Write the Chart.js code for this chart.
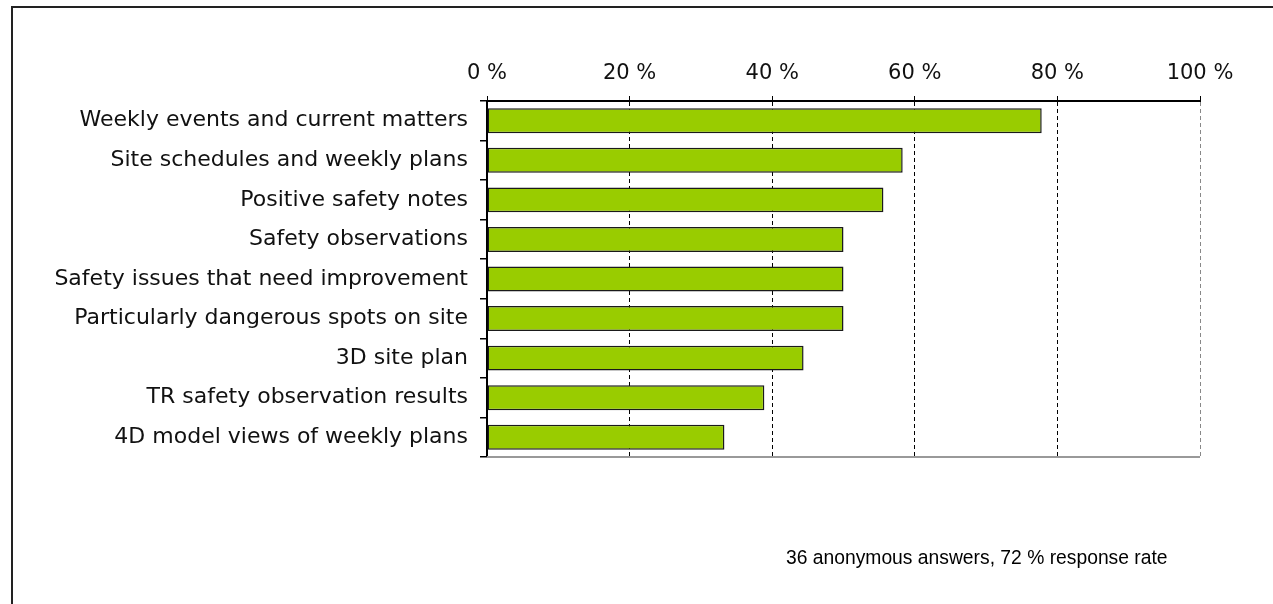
<!DOCTYPE html>
<html>
<head>
<meta charset="utf-8">
<script src="https://cdn.jsdelivr.net/npm/chart.js@4/dist/chart.umd.min.js"></script>
<style>
  html, body { margin: 0; padding: 0; background: #fff; }
  #wrap { position: relative; width: 1273px; height: 604px; overflow: hidden; }
  #frame { position: absolute; left: 11px; top: 6px; width: 1300px; height: 700px;
           border-top: 2px solid #222; border-left: 2px solid #222; }
  #note { position: absolute; left: 786px; top: 547px; font-family: "Liberation Sans", Arial, sans-serif;
          font-size: 19.3px; color: #000; white-space: nowrap; }
  canvas { position: absolute; left: 0; top: 0; }
</style>
</head>
<body>
<div id="wrap">
  <canvas id="chart" width="1273" height="604"></canvas>
  <div id="frame"></div>
  <div id="note">36 anonymous answers, 72 % response rate</div>
</div>
<script>
// answers in percent (36 respondents)
const topics = [
    "Weekly events and current matters",
    "Site schedules and weekly plans",
    "Positive safety notes",
    "Safety observations",
    "Safety issues that need improvement",
    "Particularly dangerous spots on site",
    "3D site plan",
    "TR safety observation results",
    "4D model views of weekly plans"
];
const shares = [77.8, 58.3, 55.6, 50.0, 50.0, 50.0, 44.4, 38.9, 33.3];
const xTicks = [0, 20, 40, 60, 80, 100];

const fontFamily = "'DejaVu Sans', sans-serif";

// grey frame line under the plot
const plotEdge = {
    id: "plotEdge",
    beforeDatasetsDraw(chart) {
        const a = chart.chartArea;
        const ctx = chart.ctx;
        ctx.save();
        ctx.strokeStyle = "#999";
        ctx.lineWidth = 2;
        ctx.beginPath();
        ctx.moveTo(a.left, a.bottom);
        ctx.lineTo(a.right, a.bottom);
        ctx.stroke();
        ctx.restore();
    }
};

new Chart(document.getElementById("chart"), {
    type: "bar",
    data: {
        labels: topics,
        datasets: [{
            data: shares,
            backgroundColor: "#99CC00",
            borderColor: "#1a1a1a",
            borderWidth: 1.5,
            borderSkipped: false,
            categoryPercentage: 1,
            barPercentage: 0.63
        }]
    },
    options: {
        indexAxis: "y",
        responsive: false,
        animation: false,
        layout: { padding: { left: 0, top: 0, right: 73, bottom: 147 } },
        plugins: { legend: { display: false }, tooltip: { enabled: false } },
        scales: {
            x: {
                position: "top",
                min: 0,
                max: 100,
                afterBuildTicks: s => { s.ticks = xTicks.map(v => ({ value: v })); },
                afterFit: s => { s.height = 101; },
                ticks: {
                    callback: v => v + " %",
                    color: "#111",
                    font: { family: fontFamily, size: 21 },
                    padding: 10,
                    maxRotation: 0
                },
                grid: {
                    color: c => (c.tick && c.tick.value === 100) ? "#888" : "#000",
                    lineWidth: 1,
                    tickLength: 5,
                    tickColor: "#000",
                    tickBorderDash: []
                },
                border: { color: "#000", width: 2, dash: [4, 3] }
            },
            y: {
                afterFit: s => { s.width = 487; },
                ticks: { color: "#111", font: { family: fontFamily, size: 22 }, padding: 12 },
                grid: {
                    offset: true,
                    drawOnChartArea: false,
                    tickLength: 7,
                    color: "#000",
                    lineWidth: 1.5
                },
                border: { color: "#000", width: 2 }
            }
        }
    },
    plugins: [plotEdge]
});
</script>
</body>
</html>
